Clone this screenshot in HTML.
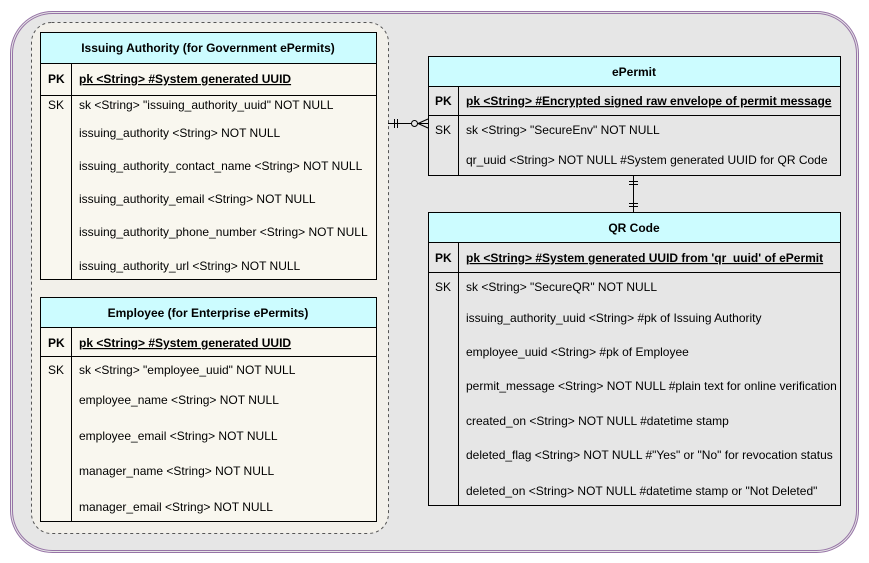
<!DOCTYPE html>
<html><head><meta charset="utf-8"><style>
html,body{margin:0;padding:0;background:#fff;}
svg{display:block;font-family:"Liberation Sans",Arial,sans-serif;font-size:12px;}
.b{font-weight:bold;}
</style></head><body>
<svg width="869" height="563" xmlns="http://www.w3.org/2000/svg">
<rect x="10.5" y="11.5" width="848" height="541" rx="42" fill="#e6e6e6" stroke="#9673a6" stroke-width="1"/>
<rect x="12.5" y="13.5" width="844" height="537" rx="40" fill="none" stroke="#9673a6" stroke-width="1"/>
<rect x="31.5" y="22.5" width="357" height="511" rx="20" fill="#f2f0ea" stroke="#555" stroke-dasharray="3 3"/>

<!-- Issuing Authority -->
<rect x="40.5" y="32.5" width="336" height="247" fill="#f9f7ef" stroke="#000"/>
<rect x="40.5" y="32.5" width="336" height="31" fill="#ccfcff" stroke="#000"/>
<line x1="40" y1="95.5" x2="376" y2="95.5" stroke="#000"/>
<line x1="71.5" y1="63" x2="71.5" y2="279" stroke="#000"/>
<text x="208" y="52" text-anchor="middle" class="b">Issuing Authority (for Government ePermits)</text>
<text x="48" y="83" class="b">PK</text>
<text x="79" y="83" class="b" text-decoration="underline">pk &lt;String&gt; #System generated UUID</text>
<text x="48" y="109">SK</text>
<text x="79" y="109">sk &lt;String&gt; "issuing_authority_uuid" NOT NULL</text>
<text x="79" y="137">issuing_authority &lt;String&gt; NOT NULL</text>
<text x="79" y="170">issuing_authority_contact_name &lt;String&gt; NOT NULL</text>
<text x="79" y="203">issuing_authority_email &lt;String&gt; NOT NULL</text>
<text x="79" y="236">issuing_authority_phone_number &lt;String&gt; NOT NULL</text>
<text x="79" y="270">issuing_authority_url &lt;String&gt; NOT NULL</text>

<!-- Employee -->
<rect x="40.5" y="297.5" width="336" height="224" fill="#f9f7ef" stroke="#000"/>
<rect x="40.5" y="297.5" width="336" height="30" fill="#ccfcff" stroke="#000"/>
<line x1="40" y1="356.5" x2="376" y2="356.5" stroke="#000"/>
<line x1="71.5" y1="327" x2="71.5" y2="521" stroke="#000"/>
<text x="208" y="317" text-anchor="middle" class="b">Employee (for Enterprise ePermits)</text>
<text x="48" y="347" class="b">PK</text>
<text x="79" y="347" class="b" text-decoration="underline">pk &lt;String&gt; #System generated UUID</text>
<text x="48" y="374">SK</text>
<text x="79" y="374">sk &lt;String&gt; "employee_uuid" NOT NULL</text>
<text x="79" y="404">employee_name &lt;String&gt; NOT NULL</text>
<text x="79" y="440">employee_email &lt;String&gt; NOT NULL</text>
<text x="79" y="475">manager_name &lt;String&gt; NOT NULL</text>
<text x="79" y="511">manager_email &lt;String&gt; NOT NULL</text>

<!-- ePermit -->
<rect x="428.5" y="56.5" width="412" height="119" fill="#e6e6e6" stroke="#000"/>
<rect x="428.5" y="56.5" width="412" height="30" fill="#ccfcff" stroke="#000"/>
<line x1="428" y1="115.5" x2="840" y2="115.5" stroke="#000"/>
<line x1="458.5" y1="86" x2="458.5" y2="175" stroke="#000"/>
<text x="634" y="76" text-anchor="middle" class="b">ePermit</text>
<text x="435" y="105" class="b">PK</text>
<text x="466" y="105" class="b" text-decoration="underline">pk &lt;String&gt; #Encrypted signed raw envelope of permit message</text>
<text x="435" y="134">SK</text>
<text x="466" y="134">sk &lt;String&gt; "SecureEnv" NOT NULL</text>
<text x="466" y="164">qr_uuid &lt;String&gt; NOT NULL #System generated UUID for QR Code</text>

<!-- QR Code -->
<rect x="428.5" y="212.5" width="412" height="293" fill="#e6e6e6" stroke="#000"/>
<rect x="428.5" y="212.5" width="412" height="30" fill="#ccfcff" stroke="#000"/>
<line x1="428" y1="272.5" x2="840" y2="272.5" stroke="#000"/>
<line x1="458.5" y1="242" x2="458.5" y2="505" stroke="#000"/>
<text x="634" y="232" text-anchor="middle" class="b">QR Code</text>
<text x="435" y="262" class="b">PK</text>
<text x="466" y="262" class="b" text-decoration="underline">pk &lt;String&gt; #System generated UUID from 'qr_uuid' of ePermit</text>
<text x="435" y="291">SK</text>
<text x="466" y="291">sk &lt;String&gt; "SecureQR" NOT NULL</text>
<text x="466" y="322">issuing_authority_uuid &lt;String&gt; #pk of Issuing Authority</text>
<text x="466" y="356">employee_uuid &lt;String&gt; #pk of Employee</text>
<text x="466" y="390">permit_message &lt;String&gt; NOT NULL #plain text for online verification</text>
<text x="466" y="425">created_on &lt;String&gt; NOT NULL #datetime stamp</text>
<text x="466" y="459">deleted_flag &lt;String&gt; NOT NULL #"Yes" or "No" for revocation status</text>
<text x="466" y="495">deleted_on &lt;String&gt; NOT NULL #datetime stamp or "Not Deleted"</text>

<!-- connectors -->
<g stroke="#000" fill="none" stroke-width="1">
<line x1="388" y1="123.5" x2="428" y2="123.5"/>
<line x1="394.5" y1="119" x2="394.5" y2="128"/>
<line x1="397.5" y1="119" x2="397.5" y2="128"/>
<circle cx="414.5" cy="123.5" r="3" fill="#e6e6e6"/>
<line x1="418" y1="123.5" x2="428" y2="119"/>
<line x1="418" y1="123.5" x2="428" y2="128"/>
<line x1="633.5" y1="175" x2="633.5" y2="212"/>
<line x1="629" y1="181.5" x2="638" y2="181.5"/>
<line x1="629" y1="184.5" x2="638" y2="184.5"/>
<line x1="629" y1="203.5" x2="638" y2="203.5"/>
<line x1="629" y1="206.5" x2="638" y2="206.5"/>
</g>
</svg>
</body></html>
